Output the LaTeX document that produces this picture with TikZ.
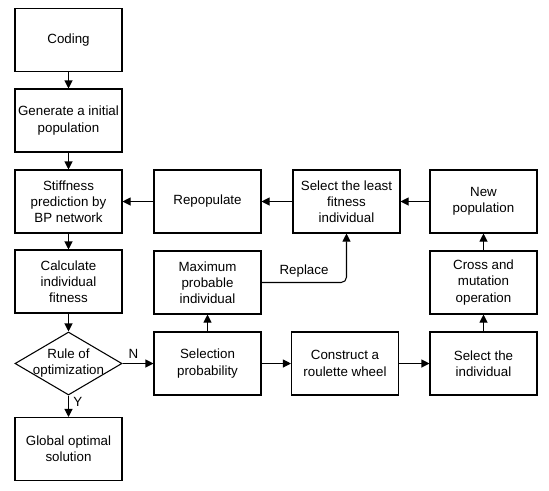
\documentclass[tikz,border=0pt]{standalone}
\usepackage{fontspec}
\setmainfont{Liberation Sans}
\usetikzlibrary{arrows.meta,shapes.geometric}

\tikzset{
  stepbox/.style={draw, line width=0.8pt, minimum width=80.25pt, minimum height=47.25pt,
    align=center, inner sep=1pt, font=\fontsize{10}{12.2}\selectfont},
  choice/.style={draw, diamond, line width=0.8pt, minimum width=80.25pt, minimum height=47.25pt,
    inner sep=0pt},
  arr/.style={line width=0.8pt, -{Triangle[length=6pt,width=6pt]}},
  tag/.style={font=\fontsize{10}{12}\selectfont}
}

\begin{document}
\begin{tikzpicture}[x=0.75pt, y=-0.75pt]
  \useasboundingbox (0,0) rectangle (549,490);
  % left column
  \node[stepbox] (coding) at (68.5,40) {Coding};
  \node[stepbox] (init) at (68.5,120.5) {Generate a initial\\population};
  \node[stepbox] (stiff) at (68.5,201.5) {Stiffness\\prediction by\\BP network};
  \node[stepbox] (fit) at (68.5,281.5) {Calculate\\individual\\fitness};
  \node[choice, label={[align=center, tag]center:Rule of\\optimization}] (rule) at (68.5,363.5) {};
  \node[stepbox] (best) at (68.5,449) {Global optimal\\solution};
  % second column
  \node[stepbox] (repop) at (207.5,201.5) {Repopulate};
  \node[stepbox] (maxi) at (207.5,282.5) {Maximum\\probable\\individual};
  \node[stepbox] (selp) at (207.5,363.5) {Selection\\probability};
  % third column
  \node[stepbox] (least) at (346.5,201.5) {Select the least\\fitness\\individual};
  \node[stepbox] (wheel) at (345,363.5) {Construct a\\roulette wheel};
  % fourth column
  \node[stepbox] (newpop) at (483.5,201.5) {New\\population};
  \node[stepbox] (cross) at (483.5,282.5) {Cross and\\mutation\\operation};
  \node[stepbox] (seli) at (483.5,363.5) {Select the\\individual};

  \draw[arr] (coding) -- (init);
  \draw[arr] (init) -- (stiff);
  \draw[arr] (stiff) -- (fit);
  \draw[arr] (fit) -- (rule);
  \draw[arr] (rule) -- node[pos=0.3, right, tag] {Y} (best);
  \draw[arr] (rule) -- node[pos=0.35, above, tag] {N} (selp);
  \draw[arr] (selp) -- (maxi);
  \draw[arr] (selp) -- (wheel);
  \draw[arr] (wheel) -- (seli);
  \draw[arr] (seli) -- (cross);
  \draw[arr] (cross) -- (newpop);
  \draw[arr] (newpop) -- (least);
  \draw[arr] (least) -- (repop);
  \draw[arr] (repop) -- (stiff);
  \draw[arr, rounded corners=4pt] (maxi.east) -| node[pos=0.25, above, tag] {Replace} (least.south);
\end{tikzpicture}
\end{document}
